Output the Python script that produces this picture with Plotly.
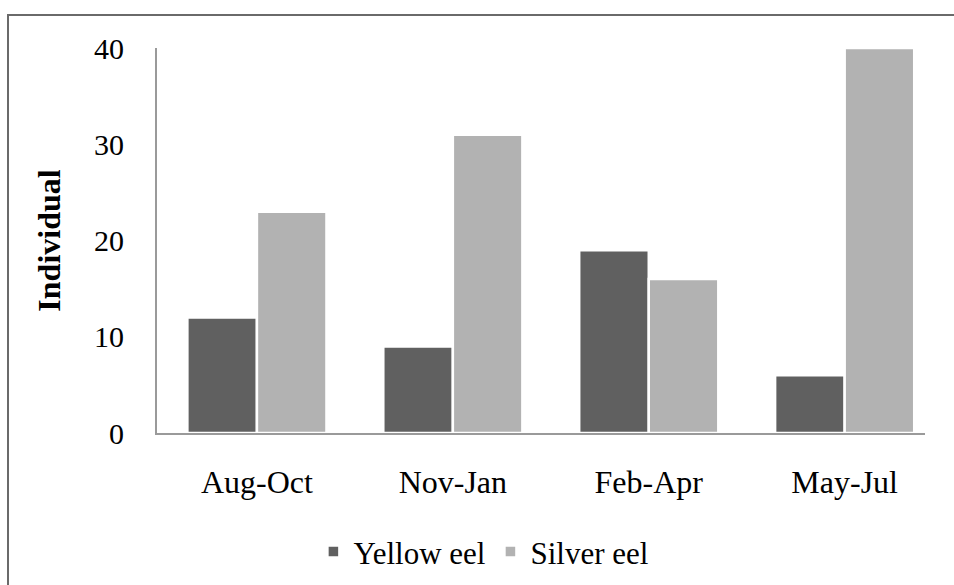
import plotly.graph_objects as go

# Seasonal counts of eels by life stage
seasons = ["Aug-Oct", "Nov-Jan", "Feb-Apr", "May-Jul"]
yellow_eel = [12, 9, 19, 6]
silver_eel = [23, 31, 16, 40]
y_ticks = [0, 10, 20, 30, 40]

FONT = "Liberation Serif, Times New Roman, serif"
AXIS_GRAY = "#9a9a9a"

fig = go.Figure()
fig.add_trace(go.Bar(
    x=seasons, y=yellow_eel, name="Yellow eel",
    marker=dict(color="#606060", line=dict(color="white", width=2.5)),
))
fig.add_trace(go.Bar(
    x=seasons, y=silver_eel, name="Silver eel",
    marker=dict(color="#b2b2b2", line=dict(color="white", width=2.5)),
))

# outer frame around the figure
fig.add_shape(
    type="rect", xref="paper", yref="paper",
    x0=-0.194, x1=1.2, y0=-1.0, y1=1.086,
    line=dict(color="#6a6a6a", width=2), fillcolor="rgba(0,0,0,0)",
    layer="below",
)

fig.update_layout(
    width=954, height=585,
    margin=dict(l=157, r=29, t=48, b=152, autoexpand=False),
    paper_bgcolor="white", plot_bgcolor="white",
    barmode="group", bargap=0.29, bargroupgap=0,
    font=dict(family=FONT, size=29, color="black"),
    showlegend=True,
    legend=dict(
        orientation="h", x=0.425, xanchor="center", y=-0.309, yanchor="middle",
        font=dict(family=FONT, size=31), itemwidth=30, traceorder="normal",
    ),
    xaxis=dict(
        type="category", range=[-0.51, 3.41], automargin=False,
        showline=True, linecolor=AXIS_GRAY, linewidth=2,
        showgrid=False, ticks="", ticklabelstandoff=20,
        tickfont=dict(family=FONT, size=32),
    ),
    yaxis=dict(
        range=[0, 40], tickvals=y_ticks, ticktext=[str(v) for v in y_ticks],
        automargin=False,
        showline=True, linecolor=AXIS_GRAY, linewidth=2,
        showgrid=False, zeroline=False, ticks="", ticklabelstandoff=25,
        tickfont=dict(family=FONT, size=30),
        title=dict(text="<b>Individual</b>", standoff=24,
                   font=dict(family=FONT, size=32)),
    ),
)

fig.write_html("out.html")
